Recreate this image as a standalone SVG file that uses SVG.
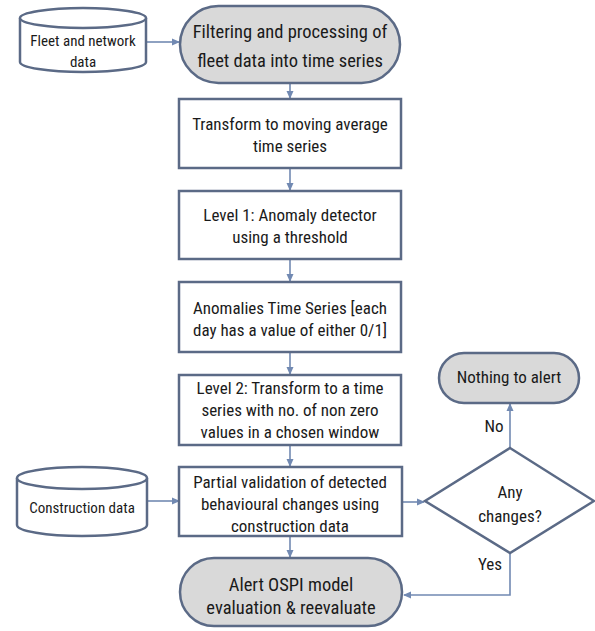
<svg xmlns="http://www.w3.org/2000/svg" width="595" height="631" viewBox="0 0 595 631">
<style>
.shape{fill:#ffffff;stroke:#5b6a86;stroke-width:2.5}
.term{fill:#d9d9d9;stroke:#5b6a86;stroke-width:2.5}
.conn{fill:none;stroke:#7189b2;stroke-width:1.6}
text{font-family:"Liberation Sans Narrow","Roboto Condensed","Liberation Sans",sans-serif;fill:#1a1a1a;text-anchor:middle}
.t17{font-size:17px}
.t18{font-size:18.5px}
.t15{font-size:15px}
</style>
<defs>
<marker id="arr" markerWidth="8" markerHeight="8" refX="7" refY="4" orient="auto" markerUnits="userSpaceOnUse">
<path d="M0,0.5 L8,4 L0,7.5 Z" fill="#7189b2"/>
</marker>
</defs>
<g id="connectors">
<line class="conn" x1="147" y1="42" x2="179" y2="42" marker-end="url(#arr)"/>
<line class="conn" x1="290" y1="84" x2="290" y2="98" marker-end="url(#arr)"/>
<line class="conn" x1="290" y1="169" x2="290" y2="190" marker-end="url(#arr)"/>
<line class="conn" x1="290" y1="260" x2="290" y2="281" marker-end="url(#arr)"/>
<line class="conn" x1="290" y1="353" x2="290" y2="374" marker-end="url(#arr)"/>
<line class="conn" x1="290" y1="446" x2="290" y2="466" marker-end="url(#arr)"/>
<line class="conn" x1="148" y1="501" x2="179" y2="501" marker-end="url(#arr)"/>
<line class="conn" x1="290" y1="537" x2="290" y2="557" marker-end="url(#arr)"/>
<line class="conn" x1="403" y1="502" x2="424" y2="502" marker-end="url(#arr)"/>
<line class="conn" x1="510" y1="448" x2="510" y2="404" marker-end="url(#arr)"/>
<polyline class="conn" points="510,553 510,595 404,595" marker-end="url(#arr)"/>
<text class="t17" x="494" y="432">No</text>
<text class="t17" x="490" y="570">Yes</text>
</g>
<g id="fleet-data">
<path class="shape" d="M20,18 A63,10 0 0 1 146,18 L146,62 A63,10 0 0 1 20,62 Z"/>
<path class="shape" d="M20,18 A63,10 0 0 0 146,18" fill="none"/>
<text class="t15" x="83" y="46">Fleet and network</text>
<text class="t15" x="83" y="67">data</text>
</g>
<g id="filtering">
<rect class="term" x="180" y="6" width="220" height="77" rx="38.5"/>
<text class="t18" x="290" y="38">Filtering and processing of</text>
<text class="t18" x="290" y="67">fleet data into time series</text>
</g>
<g id="moving-average">
<rect class="shape" x="179" y="99" width="222" height="69"/>
<text class="t17" x="290" y="130">Transform to moving average</text>
<text class="t17" x="290" y="152">time series</text>
</g>
<g id="level1">
<rect class="shape" x="179" y="191" width="222" height="68"/>
<text class="t17" x="290" y="221">Level 1: Anomaly detector</text>
<text class="t17" x="290" y="243">using a threshold</text>
</g>
<g id="anomalies">
<rect class="shape" x="179" y="282" width="222" height="70"/>
<text class="t17" x="290" y="314">Anomalies Time Series [each</text>
<text class="t17" x="290" y="336">day has a value of either 0/1]</text>
</g>
<g id="level2">
<rect class="shape" x="179" y="375" width="222" height="70"/>
<text class="t17" x="290" y="394">Level 2:  Transform to a time</text>
<text class="t17" x="290" y="416">series with no. of non zero</text>
<text class="t17" x="290" y="438">values in a chosen window</text>
</g>
<g id="construction-data">
<path class="shape" d="M17,478 A65,11 0 0 1 147,478 L147,525 A65,11 0 0 1 17,525 Z"/>
<path class="shape" d="M17,478 A65,11 0 0 0 147,478" fill="none"/>
<text class="t15" x="82" y="513">Construction data</text>
</g>
<g id="partial-validation">
<rect class="shape" x="179" y="467" width="223" height="69"/>
<text class="t17" x="290" y="488">Partial validation of detected</text>
<text class="t17" x="290" y="510">behavioural changes using</text>
<text class="t17" x="290" y="532">construction data</text>
</g>
<g id="any-changes">
<polygon class="shape" points="510,448 594,501 510,553 425,501"/>
<text class="t17" x="510" y="498">Any</text>
<text class="t17" x="510" y="522">changes?</text>
</g>
<g id="nothing-to-alert">
<rect class="term" x="439" y="353" width="140" height="50" rx="25"/>
<text class="t17" x="509" y="383">Nothing to alert</text>
</g>
<g id="alert-ospi">
<rect class="term" x="180" y="558" width="222" height="68" rx="34"/>
<text class="t18" x="291" y="591">Alert OSPI model</text>
<text class="t18" x="291" y="614">evaluation &amp; reevaluate</text>
</g>
</svg>
